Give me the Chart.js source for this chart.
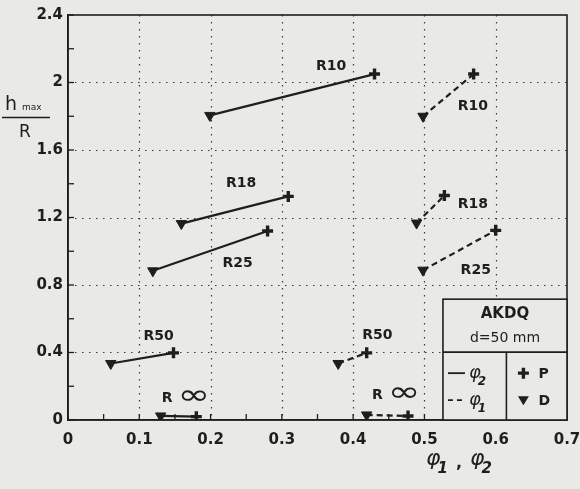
<!DOCTYPE html>
<html>
<head>
<meta charset="utf-8">
<script src="https://cdn.jsdelivr.net/npm/chart.js@4.4.1/dist/chart.umd.min.js"></script>
<style>
  html, body { margin: 0; padding: 0; background: #e9e9e6; }
  #wrap { width: 580px; height: 489px; }
</style>
</head>
<body>
<div id="wrap"><canvas id="hChart" width="580" height="489"></canvas></div>
<script>
// curves, from top to bottom
const curveNames = ['R10', 'R18', 'R25', 'R50', 'R\u221E'];

// phi_2 (solid): D = triangle end, P = plus end
const phi2DX = [0.199, 0.159, 0.119, 0.060, 0.130];
const phi2DY = [1.805, 1.164, 0.884, 0.335, 0.024];
const phi2PX = [0.430, 0.309, 0.280, 0.148, 0.180];
const phi2PY = [2.050, 1.325, 1.120, 0.398, 0.020];

// phi_1 (dashed)
const phi1DX = [0.498, 0.489, 0.498, 0.379, 0.419];
const phi1DY = [1.800, 1.167, 0.888, 0.335, 0.030];
const phi1PX = [0.569, 0.528, 0.600, 0.419, 0.477];
const phi1PY = [2.050, 1.330, 1.124, 0.398, 0.024];

// label anchors (data units)
const solidLabelX = [0.369, 0.243, 0.238, 0.127, 0.155];
const solidLabelY = [2.097, 1.400, 0.927, 0.493, 0.130];
const dashLabelX = [0.568, 0.568, 0.572, 0.434, 0.450];
const dashLabelY = [1.858, 1.278, 0.888, 0.503, 0.148];

const xTicks = [0, 0.1, 0.2, 0.3, 0.4, 0.5, 0.6, 0.7];
const yTicks = [0, 0.4, 0.8, 1.2, 1.6, 2, 2.4];

const INK = '#1e1e1e';
const PAPER = '#e9e9e6';
const FONT = '"DejaVu Sans", sans-serif';

const isMajor = (v, list) => list.some((t) => Math.abs(t - v) < 1e-6);

function segment(xs, ys, i, dashed) {
  return {
    data: [{ x: xs[0][i], y: ys[0][i] }, { x: xs[1][i], y: ys[1][i] }],
    showLine: true,
    borderColor: INK,
    backgroundColor: INK,
    borderWidth: 2.2,
    borderDash: dashed ? [6, 4] : [],
    pointStyle: ['triangle', 'cross'],
    rotation: [180, 0],
    pointRadius: [6, 5.5],
    pointBorderWidth: [1, 3.4],
    pointBorderColor: INK,
    pointBackgroundColor: INK,
  };
}

const datasets = [];
curveNames.forEach((name, i) => {
  datasets.push(segment([phi2DX, phi2PX], [phi2DY, phi2PY], i, false));
  datasets.push(segment([phi1DX, phi1PX], [phi1DY, phi1PY], i, true));
});

function drawLabel(ctx, text, px, py) {
  ctx.fillStyle = INK;
  ctx.textBaseline = 'middle';
  if (text.indexOf('\u221E') >= 0) {
    ctx.font = 'bold 14px ' + FONT;
    ctx.textAlign = 'right';
    ctx.fillText('R', px - 6, py);
    ctx.save();
    ctx.translate(px - 1, py - 1);
    ctx.scale(1.4, 1);
    ctx.font = '28px ' + FONT;
    ctx.textAlign = 'left';
    ctx.fillText('\u221E', 0, 0);
    ctx.restore();
  } else {
    ctx.font = 'bold 14px ' + FONT;
    ctx.textAlign = 'center';
    ctx.fillText(text, px, py);
  }
}

function phi(ctx, x, y, sub, size) {
  ctx.textAlign = 'left';
  ctx.textBaseline = 'alphabetic';
  ctx.font = 'italic ' + size + 'px ' + FONT;
  ctx.fillText('\u03C6', x, y);
  const w = ctx.measureText('\u03C6').width;
  ctx.font = 'italic bold ' + Math.round(size * 0.68) + 'px ' + FONT;
  ctx.fillText(sub, x + w - 3, y + size * 0.38);
  return w;
}

const decor = {
  id: 'decor',
  beforeDraw(chart) {
    const ctx = chart.ctx;
    ctx.save();
    ctx.fillStyle = PAPER;
    ctx.fillRect(0, 0, chart.width, chart.height);
    ctx.restore();
  },
  beforeDatasetsDraw(chart) {
    const { ctx, chartArea: a, scales: { x, y } } = chart;
    ctx.save();
    // dotted grid
    ctx.strokeStyle = '#3a3a3a';
    ctx.lineWidth = 1.2;
    ctx.setLineDash([1.5, 5.5]);
    xTicks.slice(1, -1).forEach((v) => {
      const p = Math.round(x.getPixelForValue(v)) + 0.5;
      ctx.beginPath(); ctx.moveTo(p, a.top); ctx.lineTo(p, a.bottom); ctx.stroke();
    });
    yTicks.slice(1, -1).forEach((v) => {
      const p = Math.round(y.getPixelForValue(v)) + 0.5;
      ctx.beginPath(); ctx.moveTo(a.left, p); ctx.lineTo(a.right, p); ctx.stroke();
    });
    ctx.setLineDash([]);
    // inward ticks
    ctx.strokeStyle = INK;
    ctx.lineWidth = 1.3;
    x.ticks.forEach((t) => {
      const p = x.getPixelForValue(t.value);
      ctx.beginPath(); ctx.moveTo(p, a.bottom); ctx.lineTo(p, a.bottom - 6); ctx.stroke();
    });
    y.ticks.forEach((t) => {
      const p = y.getPixelForValue(t.value);
      ctx.beginPath(); ctx.moveTo(a.left, p); ctx.lineTo(a.left + 6, p); ctx.stroke();
    });
    // frame
    ctx.lineWidth = 1.6;
    ctx.strokeRect(a.left, a.top, a.right - a.left, a.bottom - a.top);

    // legend box
    const lx = x.getPixelForValue(0.526);
    const ly = y.getPixelForValue(0.716);
    const my = y.getPixelForValue(0.402);
    const mx = x.getPixelForValue(0.615);
    ctx.fillStyle = PAPER;
    ctx.fillRect(lx, ly, a.right - lx, a.bottom - ly);
    ctx.lineWidth = 1.6;
    ctx.strokeRect(lx, ly, a.right - lx, a.bottom - ly);
    ctx.beginPath();
    ctx.moveTo(lx, my); ctx.lineTo(a.right, my);
    ctx.moveTo(mx, my); ctx.lineTo(mx, a.bottom);
    ctx.stroke();

    const cx = (lx + a.right) / 2;
    ctx.fillStyle = INK;
    ctx.textAlign = 'center';
    ctx.textBaseline = 'middle';
    ctx.font = 'bold 15px ' + FONT;
    ctx.fillText('AKDQ', cx, ly + 15);
    ctx.font = '14px ' + FONT;
    ctx.fillText('d=50 mm', cx, ly + 39);

    const r1 = my + 21, r2 = my + 48;
    ctx.lineWidth = 1.8;
    ctx.beginPath(); ctx.moveTo(lx + 5, r1); ctx.lineTo(lx + 22, r1); ctx.stroke();
    ctx.setLineDash([5, 4]);
    ctx.beginPath(); ctx.moveTo(lx + 5, r2); ctx.lineTo(lx + 22, r2); ctx.stroke();
    ctx.setLineDash([]);
    phi(ctx, lx + 26, r1 + 5, '2', 18);
    phi(ctx, lx + 26, r2 + 5, '1', 18);

    // legend markers
    const sx = mx + 17;
    ctx.lineWidth = 3.4;
    ctx.beginPath();
    ctx.moveTo(sx - 5.5, r1); ctx.lineTo(sx + 5.5, r1);
    ctx.moveTo(sx, r1 - 5.5); ctx.lineTo(sx, r1 + 5.5);
    ctx.stroke();
    ctx.beginPath();
    ctx.moveTo(sx - 5.5, r2 - 4); ctx.lineTo(sx + 5.5, r2 - 4); ctx.lineTo(sx, r2 + 5);
    ctx.closePath(); ctx.fill();
    ctx.font = 'bold 14px ' + FONT;
    ctx.textAlign = 'left';
    ctx.textBaseline = 'middle';
    ctx.fillText('P', mx + 32, r1 + 1);
    ctx.fillText('D', mx + 32, r2 + 1);
    ctx.restore();
  },
  afterDatasetsDraw(chart) {
    const { ctx, scales: { x, y } } = chart;
    ctx.save();
    curveNames.forEach((name, i) => {
      drawLabel(ctx, name, x.getPixelForValue(solidLabelX[i]), y.getPixelForValue(solidLabelY[i]));
      drawLabel(ctx, name, x.getPixelForValue(dashLabelX[i]), y.getPixelForValue(dashLabelY[i]));
    });

    // y title: h_max / R
    ctx.fillStyle = INK;
    ctx.strokeStyle = INK;
    ctx.textBaseline = 'alphabetic';
    ctx.textAlign = 'left';
    ctx.font = '19px ' + FONT;
    ctx.fillText('h', 5, 110);
    ctx.font = '9px ' + FONT;
    ctx.fillText('max', 22, 110);
    ctx.lineWidth = 1.4;
    ctx.beginPath(); ctx.moveTo(2, 117.5); ctx.lineTo(50, 117.5); ctx.stroke();
    ctx.font = '17px ' + FONT;
    ctx.textAlign = 'center';
    ctx.fillText('R', 25, 137);

    // x title: phi_1, phi_2
    phi(ctx, 426, 465, '1', 22);
    ctx.font = 'bold 16px ' + FONT;
    ctx.textAlign = 'left';
    ctx.fillText(',', 456, 468);
    phi(ctx, 470, 465, '2', 22);
    ctx.restore();
  }
};

new Chart(document.getElementById('hChart'), {
  type: 'scatter',
  data: { datasets },
  options: {
    responsive: false,
    animation: false,
    layout: { padding: { top: 15, right: 13, left: 0, bottom: 0 } },
    plugins: { legend: { display: false }, tooltip: { enabled: false } },
    scales: {
      x: {
        type: 'linear',
        min: 0,
        max: 0.7,
        afterFit: (s) => { s.height = 69; s.paddingLeft = 0; s.paddingRight = 0; },
        grid: { display: false, drawTicks: false },
        border: { display: true, color: INK, width: 1.6 },
        ticks: {
          stepSize: 0.05,
          autoSkip: false,
          maxRotation: 0,
          padding: 11,
          color: INK,
          font: { family: FONT, size: 15, weight: 'bold' },
          callback: (v) => (isMajor(v, xTicks) ? String(+v.toFixed(1)) : ''),
        },
      },
      y: {
        min: 0,
        max: 2.4,
        afterFit: (s) => { s.width = 68; },
        grid: { display: false, drawTicks: false },
        border: { display: true, color: INK, width: 1.6 },
        ticks: {
          stepSize: 0.2,
          autoSkip: false,
          padding: 5,
          color: INK,
          font: { family: FONT, size: 15, weight: 'bold' },
          callback: (v) => (isMajor(v, yTicks) ? String(+v.toFixed(1)) : ''),
        },
      },
    },
  },
  plugins: [decor],
});
</script>
</body>
</html>
